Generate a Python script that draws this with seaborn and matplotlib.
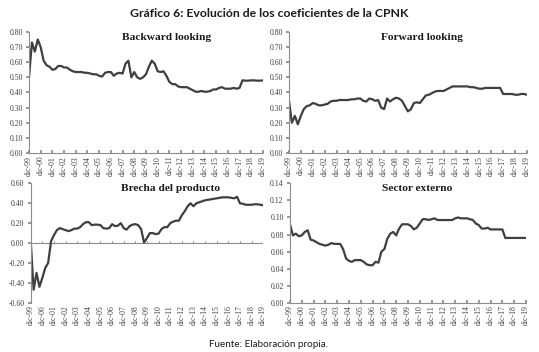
import numpy as np
import pandas as pd
import matplotlib
matplotlib.use("Agg")
import matplotlib.pyplot as plt
import seaborn as sns

# --- data: quarterly coefficients, dic-99 .. dic-19 ---
tick_labels = ["dic-99", "dic-00", "dic-01", "dic-02", "dic-03", "dic-04", "dic-05",
               "dic-06", "dic-07", "dic-08", "dic-09", "dic-10", "dic-11", "dic-12",
               "dic-13", "dic-14", "dic-15", "dic-16", "dic-17", "dic-18", "dic-19"]

backward = [0.50, 0.73, 0.67, 0.75, 0.70, 0.61, 0.58, 0.57,
            0.55, 0.555, 0.575, 0.575, 0.565, 0.565, 0.55, 0.54,
            0.535, 0.535, 0.535, 0.53, 0.53, 0.525, 0.52, 0.52,
            0.51, 0.505, 0.53, 0.535, 0.535, 0.51, 0.525, 0.53,
            0.525, 0.59, 0.61, 0.50, 0.535, 0.50, 0.49, 0.50,
            0.52, 0.57, 0.61, 0.59, 0.54, 0.535, 0.54, 0.51,
            0.47, 0.455, 0.455, 0.44, 0.435, 0.435, 0.435, 0.425,
            0.415, 0.405, 0.405, 0.41, 0.405, 0.405, 0.41, 0.42,
            0.42, 0.43, 0.435, 0.425, 0.425, 0.425, 0.43, 0.425,
            0.43, 0.48, 0.478, 0.478, 0.48, 0.48, 0.478, 0.478, 0.48]

forward = [0.35, 0.20, 0.245, 0.19, 0.245, 0.29, 0.31, 0.315,
           0.33, 0.325, 0.315, 0.315, 0.32, 0.325, 0.34, 0.345,
           0.345, 0.35, 0.35, 0.35, 0.35, 0.355, 0.355, 0.36,
           0.36, 0.345, 0.34, 0.36, 0.355, 0.345, 0.35, 0.30,
           0.29, 0.36, 0.34, 0.355, 0.365, 0.36, 0.345, 0.31,
           0.275, 0.29, 0.33, 0.335, 0.33, 0.355, 0.38, 0.385,
           0.395, 0.405, 0.41, 0.41, 0.41, 0.42, 0.43, 0.44,
           0.44, 0.44, 0.44, 0.44, 0.44, 0.435, 0.435, 0.43,
           0.425, 0.425, 0.43, 0.43, 0.43, 0.43, 0.43, 0.43,
           0.39, 0.39, 0.39, 0.39, 0.385, 0.385, 0.39, 0.39, 0.385]

brecha = [0.02, -0.47, -0.30, -0.44, -0.35, -0.25, -0.20, 0.02,
          0.08, 0.13, 0.15, 0.14, 0.13, 0.12, 0.13, 0.145,
          0.145, 0.16, 0.19, 0.21, 0.21, 0.18, 0.185, 0.185,
          0.18, 0.15, 0.145, 0.15, 0.19, 0.17, 0.175, 0.20,
          0.15, 0.135, 0.17, 0.185, 0.19, 0.18, 0.14, 0.005,
          0.05, 0.10, 0.10, 0.09, 0.095, 0.14, 0.16, 0.16,
          0.20, 0.215, 0.225, 0.225, 0.28, 0.32, 0.37, 0.40,
          0.37, 0.40, 0.41, 0.42, 0.43, 0.435, 0.44, 0.445,
          0.45, 0.455, 0.46, 0.46, 0.46, 0.455, 0.45, 0.465,
          0.40, 0.395, 0.385, 0.385, 0.385, 0.39, 0.39, 0.385, 0.38]

externo = [0.092, 0.079, 0.081, 0.078, 0.079, 0.083, 0.085, 0.074,
           0.073, 0.071, 0.069, 0.068, 0.067, 0.068, 0.070, 0.069,
           0.069, 0.069, 0.063, 0.052, 0.049, 0.048, 0.050, 0.050,
           0.050, 0.048, 0.045, 0.044, 0.044, 0.048, 0.047, 0.060,
           0.063, 0.075, 0.081, 0.083, 0.079, 0.087, 0.092, 0.092,
           0.092, 0.090, 0.086, 0.088, 0.093, 0.098, 0.098, 0.097,
           0.098, 0.099, 0.097, 0.097, 0.097, 0.097, 0.097, 0.097,
           0.099, 0.100, 0.099, 0.099, 0.099, 0.098, 0.097, 0.093,
           0.091, 0.087, 0.087, 0.088, 0.086, 0.086, 0.086, 0.086,
           0.086, 0.076, 0.076, 0.076, 0.076, 0.076, 0.076, 0.076, 0.076]

panels = [
    ("Backward looking", backward, (0.0, 0.80), 0.10, [0.0538, 0.5653, 0.434, 0.344], 0.59),
    ("Forward looking", forward, (0.0, 0.80), 0.10, [0.536, 0.5653, 0.4416, 0.344], 0.56),
    ("Brecha del producto", brecha, (-0.60, 0.60), 0.20, [0.057, 0.140, 0.4313, 0.339], 0.60),
    ("Sector externo", externo, (0.0, 0.14), 0.02, [0.538, 0.140, 0.4378, 0.339], 0.54),
]

sns.set_theme(style="white")
plt.rcParams["font.family"] = ["Liberation Serif", "DejaVu Serif"]

LINE = "#3f3f3f"
SPINE = "#8c8c8c"
TXT = "#404040"

fig = plt.figure(figsize=(5.39, 3.52), dpi=100)
fig.patch.set_facecolor("white")

for title, vals, ylim, step, pos, tx in panels:
    ax = fig.add_axes(pos)
    df = pd.DataFrame({"q": np.arange(len(vals)), "v": vals})
    sns.lineplot(data=df, x="q", y="v", ax=ax, color=LINE, linewidth=1.6)
    ax.set_xlim(0, len(vals) - 1)
    ax.set_ylim(*ylim)
    yt = np.arange(ylim[0], ylim[1] + step / 2, step)
    ax.set_yticks(yt)
    ax.set_yticklabels([f"{v:.2f}".replace("-0.00", "0.00") for v in yt])
    ax.set_xticks(np.arange(0, len(vals), 4))
    ax.set_xticklabels(tick_labels, rotation=90)
    ax.set_xlabel("")
    ax.set_ylabel("")
    for s in ["top", "right"]:
        ax.spines[s].set_visible(False)
    ax.spines["left"].set_color(SPINE)
    ax.spines["left"].set_linewidth(0.8)
    if ylim[0] < 0:
        # x axis crosses at zero, labels stay at the bottom
        ax.spines["bottom"].set_visible(False)
        ax.axhline(0, color=SPINE, linewidth=0.8, zorder=1)
        for xt in np.arange(0, len(vals), 4):
            ax.plot([xt, xt], [0, 0.025], color=SPINE, linewidth=0.6, zorder=1)
        ax.tick_params(axis="x", length=0, pad=2)
    else:
        ax.spines["bottom"].set_color(SPINE)
        ax.spines["bottom"].set_linewidth(0.8)
        ax.tick_params(axis="x", direction="in", length=2.5, color=SPINE, pad=2)
    ax.tick_params(axis="y", direction="out", length=2.5, color=SPINE, pad=2)
    ax.tick_params(labelsize=5.6, labelcolor=TXT, left=True, bottom=True)
    ax.text(tx, 0.955, title, transform=ax.transAxes, ha="center", va="center",
            fontsize=8.2, fontweight="bold", color="#1a1a1a")

fig.text(0.5, 0.963, "Gráfico 6: Evolución de los coeficientes de la CPNK",
         ha="center", va="center", fontsize=8.8, fontweight="bold",
         family=["Lato", "DejaVu Sans"], color="#1a1a1a")
fig.text(0.498, 0.02, "Fuente: Elaboración propia.", ha="center", va="center",
         fontsize=7.1, family=["Lato", "DejaVu Sans"], color="#1a1a1a")

fig.savefig("out.png", dpi=100, facecolor="white")
